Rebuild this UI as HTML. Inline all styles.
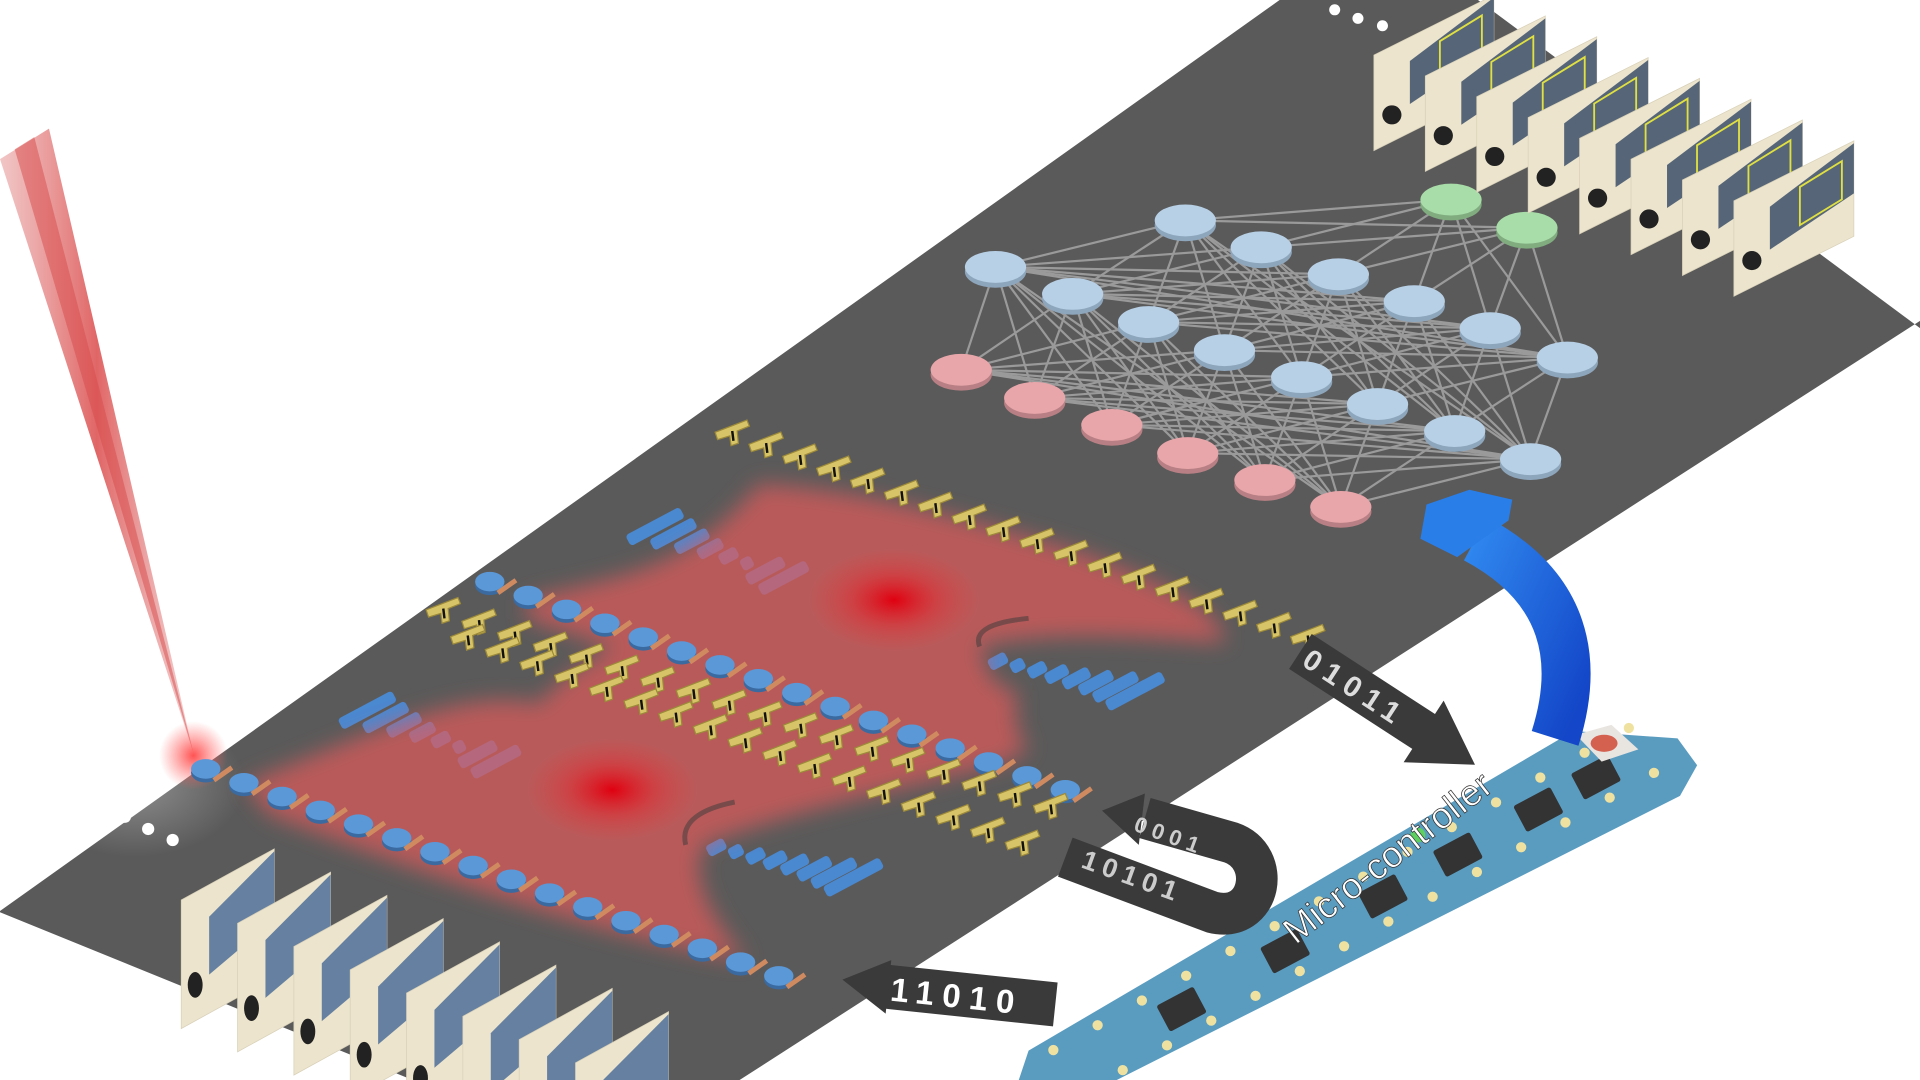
<!DOCTYPE html>
<html><head><meta charset="utf-8"><style>
html,body{margin:0;padding:0;background:#fff;width:1920px;height:1080px;overflow:hidden}
svg{display:block}
text{font-family:"Liberation Sans",sans-serif}
</style></head><body>
<svg id="s" width="1920" height="1080" viewBox="0 0 1568 882" preserveAspectRatio="none" xmlns="http://www.w3.org/2000/svg">
<defs>
<linearGradient id="beam" x1="0" y1="0" x2="1" y2="0">
<stop offset="0" stop-color="#e8a0a0" stop-opacity="0.6"/>
<stop offset="0.5" stop-color="#dd5555" stop-opacity="0.9"/>
<stop offset="1" stop-color="#e8a0a0" stop-opacity="0.5"/>
</linearGradient>
<radialGradient id="hot"><stop offset="0" stop-color="#e00010" stop-opacity="1"/><stop offset="0.5" stop-color="#e02a30" stop-opacity="0.5"/><stop offset="1" stop-color="#e04040" stop-opacity="0"/></radialGradient>
<radialGradient id="glow"><stop offset="0" stop-color="#ff4040" stop-opacity="0.9"/><stop offset="1" stop-color="#ff6060" stop-opacity="0"/></radialGradient>
<radialGradient id="wglow"><stop offset="0" stop-color="#fff" stop-opacity="0.9"/><stop offset="1" stop-color="#fff" stop-opacity="0"/></radialGradient>
<linearGradient id="blue" x1="0" y1="0" x2="1" y2="1"><stop offset="0" stop-color="#2f86ee"/><stop offset="1" stop-color="#1346c8"/></linearGradient>
<filter id="blur" x="-20%" y="-20%" width="140%" height="140%"><feGaussianBlur stdDeviation="9"/></filter>
<clipPath id="frame"><rect x="0" y="0" width="1568" height="882"/></clipPath>
</defs>
<g clip-path="url(#frame)">
<!-- plane -->
<polygon points="0,744 1045,0 1207,0 1568,268 1568,262 604,882 337,882 0,745" fill="#5a5a5a"/>
<ellipse cx="110" cy="640" rx="90" ry="60" fill="url(#wglow)" opacity="0.35"/>
<!-- laser -->
<polygon points="0,130 40,105 158,615" fill="url(#beam)"/>
<polygon points="12,122 28,112 158,615" fill="#d84a4a" opacity="0.5"/>
<circle cx="158" cy="617" r="28" fill="url(#glow)"/>
<!-- dots -->
<g fill="#fff"><circle cx="102" cy="667" r="5"/><circle cx="121" cy="677" r="5"/><circle cx="141" cy="686" r="5"/>
<circle cx="1090" cy="8" r="4.5"/><circle cx="1109" cy="15" r="4.5"/><circle cx="1129" cy="21" r="4.5"/></g>
<g id="nn"></g>
<g id="bars"></g>
<!-- red beams -->
<g opacity="0.7" filter="url(#blur)">
<path d="M200,640 C300,600 380,560 440,575 C470,540 520,510 600,505 C700,520 780,540 830,565 L830,620 C760,640 650,660 575,690 C560,720 590,760 610,785 C520,770 400,735 220,665 Z" fill="#e25a5a"/>
<path d="M430,490 C500,470 560,470 620,395 C700,400 780,420 880,450 C960,480 1000,500 1000,525 C920,520 860,515 800,528 C810,560 830,590 840,615 C760,600 690,580 610,560 C540,540 470,520 430,505 Z" fill="#e25a5a"/>
</g>
<path d="M560,690 C555,670 575,660 600,655" stroke="#3a3a3a" stroke-width="4" fill="none" opacity="0.5"/>
<path d="M800,528 C795,515 810,508 840,505" stroke="#3a3a3a" stroke-width="4" fill="none" opacity="0.5"/>
<ellipse cx="500" cy="645" rx="70" ry="42" fill="url(#hot)"/>
<ellipse cx="730" cy="490" rx="70" ry="42" fill="url(#hot)"/>
<g id="rows"></g>
<g id="cards"></g>
<!-- board -->
<polygon points="832,882 840,858 1285,597 1370,603 1386,625 1372,650 912,882" fill="#5a9cc0"/>
<g id="board"></g>
<polygon points="1287,600 1316,592 1338,612 1308,622" fill="#e8e4e0"/>
<ellipse cx="1310" cy="607" rx="11" ry="7" fill="#d46050"/>
<circle cx="1158" cy="682" r="6" fill="#5ed060"/>
<text x="0" y="0" transform="translate(1058,772) rotate(-38)" font-size="30" fill="#fff" stroke="#333" stroke-width="0.6">Micro-controller</text>
<!-- blue arrow -->
<path d="M1270,603 C1290,540 1280,480 1205,440" stroke="url(#blue)" stroke-width="40" fill="none"/>
<polygon points="1160,440 1165,412 1200,400 1235,408 1232,425 1190,455" fill="#2a7ee8"/>
<!-- 01011 arrow -->
<g transform="translate(1062,532) rotate(33)">
<polygon points="0,-17 120,-17 120,-30 170,0 120,30 120,17 0,17" fill="#3a3a3a"/>
<text x="6" y="9" font-size="24" font-weight="bold" fill="#ddd" letter-spacing="6">01011</text>
</g>
<!-- U arrow -->
<g>
<path d="M870,700 L990,745 C1030,755 1040,700 1005,688 L935,668" stroke="#3a3a3a" stroke-width="34" fill="none"/>
<polygon points="900,662 935,648 930,690" fill="#3a3a3a"/>
<text transform="translate(925,678) rotate(20)" font-size="18" font-weight="bold" fill="#ccc" letter-spacing="5">0001</text>
<text transform="translate(882,708) rotate(20)" font-size="22" font-weight="bold" fill="#ccc" letter-spacing="5">10101</text>
</g>
<!-- 11010 arrow -->
<g transform="translate(688,800) rotate(6)">
<polygon points="0,0 38,-20 38,-16 175,-16 175,20 38,20 38,24" fill="#3a3a3a"/>
<text x="40" y="13" font-size="27" font-weight="bold" fill="#fff" letter-spacing="7">11010</text>
</g>
</g>
</svg>
<script>
const NS="http://www.w3.org/2000/svg";
function el(p,t,a){const e=document.createElementNS(NS,t);for(const k in a)e.setAttribute(k,a[k]);p.appendChild(e);return e;}
const g=id=>document.getElementById(id);
const L1=[[785,302],[845,325],[908,347],[970,370],[1033,392],[1095,414]];
const L2=[[813,218],[876,240],[938,263],[1000,286],[1063,308],[1125,330],[1188,352],[1250,375]];
const L3=[[968,180],[1030,202],[1093,224],[1155,246],[1217,268],[1280,292]];
const L4=[[1185,163],[1247,186]];
const nn=g('nn');
[[L1,L2],[L2,L3],[L3,L4]].forEach(([a,b])=>a.forEach(p=>b.forEach(q=>el(nn,'line',{x1:p[0],y1:p[1],x2:q[0],y2:q[1],stroke:'#9a9a9a','stroke-width':1.8}))));
function node(p,c,d){el(nn,'ellipse',{cx:p[0],cy:p[1]+4,rx:25,ry:13,fill:d});el(nn,'ellipse',{cx:p[0],cy:p[1],rx:25,ry:13,fill:c});}
L1.forEach(p=>node(p,'#e8a6aa','#b88084'));L2.forEach(p=>node(p,'#b8d0e6','#8ea6bc'));L3.forEach(p=>node(p,'#b8d0e6','#8ea6bc'));L4.forEach(p=>node(p,'#a8dca8','#80ac80'));
const bars=g('bars');
function barGroup(x,y,dx,dy,lens){lens.forEach((l,i)=>{const cx=x+dx*i,cy=y+dy*i;el(bars,'rect',{x:-l/2,y:-5,width:l,height:10,rx:3,fill:'#4a88d0',transform:`translate(${cx},${cy}) rotate(-28)`});});}
barGroup(535,430,15,6,[50,40,30,22,16,10,34,44]);
barGroup(300,580,15,6,[50,40,30,22,16,10,34,44]);
barGroup(815,540,16,3.5,[16,12,16,20,24,30,40,52]);
barGroup(585,692,16,3.5,[16,12,16,20,24,30,40,52]);
const rows=g('rows');
function disc(x,y){el(rows,'ellipse',{cx:x,cy:y+3,rx:12,ry:8,fill:'#3a6aa0'});el(rows,'ellipse',{cx:x,cy:y,rx:12,ry:8,fill:'#5a98d8'});el(rows,'rect',{x:-9,y:-2,width:18,height:4,fill:'#d08a60',transform:`translate(${x+14},${y+4}) rotate(-35)`});}
function discRow(x0,y0,x1,y1,n){for(let i=0;i<n;i++){disc(x0+(x1-x0)*i/(n-1),y0+(y1-y0)*i/(n-1));}}
discRow(168,628,636,797,16);
discRow(400,475,870,645,16);
function yel(x,y){el(rows,'path',{d:'M-14,3 L12,-7 L14,-2 L4,2 L5,12 L-1,14 L-2,6 L-12,9 Z',fill:'#d8c468',stroke:'#9c8a3a','stroke-width':1,transform:`translate(${x},${y})`});el(rows,'line',{x1:x,y1:y+2,x2:x+1,y2:y+10,stroke:'#111','stroke-width':2});}
function yRow(x0,y0,x1,y1,n){for(let i=0;i<n;i++){yel(x0+(x1-x0)*i/(n-1),y0+(y1-y0)*i/(n-1));}}
yRow(598,350,1068,517,18);
yRow(362,495,858,655,18);
yRow(382,517,835,685,17);
const cards=g('cards');
function card(x,y,w,h,s,top){const t=w*s;
el(cards,'path',{d:`M${x},${y} L${x+w},${y-t} L${x+w},${y-t+h} L${x},${y+h} Z`,fill:'#ece4cc',stroke:'#d8d0b8','stroke-width':0.6});
el(cards,'path',{d:`M${x+w*0.3},${y-t*0.3+h*0.25} L${x+w},${y-t+2} L${x+w},${y-t+h*0.55} L${x+w*0.3},${y-t*0.3+h*0.7} Z`,fill:top?'#3c5068':'#4e6e98',opacity:0.85});
el(cards,'ellipse',{cx:x+w*0.15,cy:y+h*0.72-t*0.15,rx:w*0.08,ry:h*0.1,fill:'#222'});
if(top){el(cards,'path',{d:`M${x+w*0.55},${y-t*0.55+h*0.2} L${x+w*0.9},${y-t*0.9+h*0.15} L${x+w*0.9},${y-t*0.9+h*0.55} L${x+w*0.55},${y-t*0.55+h*0.6} Z`,fill:'none',stroke:'#e0e040','stroke-width':1.5});}
}
for(let i=0;i<8;i++)card(148+46*i,735+19*i,76,105,0.55,false);
for(let i=0;i<8;i++)card(1122+42*i,45+17*i,98,78,0.5,true);
const b=g('board');
function onBoard(t,o){const ax=870,ay=875,bx=1340,by=612;const ux=(bx-ax),uy=(by-ay);const L=Math.hypot(ux,uy);const nx=-uy/L,ny=ux/L;return [ax+ux*t+nx*o,ay+uy*t+ny*o];}
for(let i=0;i<14;i++){const t=i/13;[-20,22].forEach(o=>{const p=onBoard(t,o);el(b,'circle',{cx:p[0],cy:p[1],r:4.2,fill:'#efe2a0'});});}
[0.2,0.38,0.55,0.68,0.82,0.92].forEach(t=>{const p=onBoard(t,2);el(b,'rect',{x:-17,y:-12,width:34,height:24,rx:2,fill:'#333',transform:`translate(${p[0]},${p[1]}) rotate(-28)`});});
</script>
</body></html>
